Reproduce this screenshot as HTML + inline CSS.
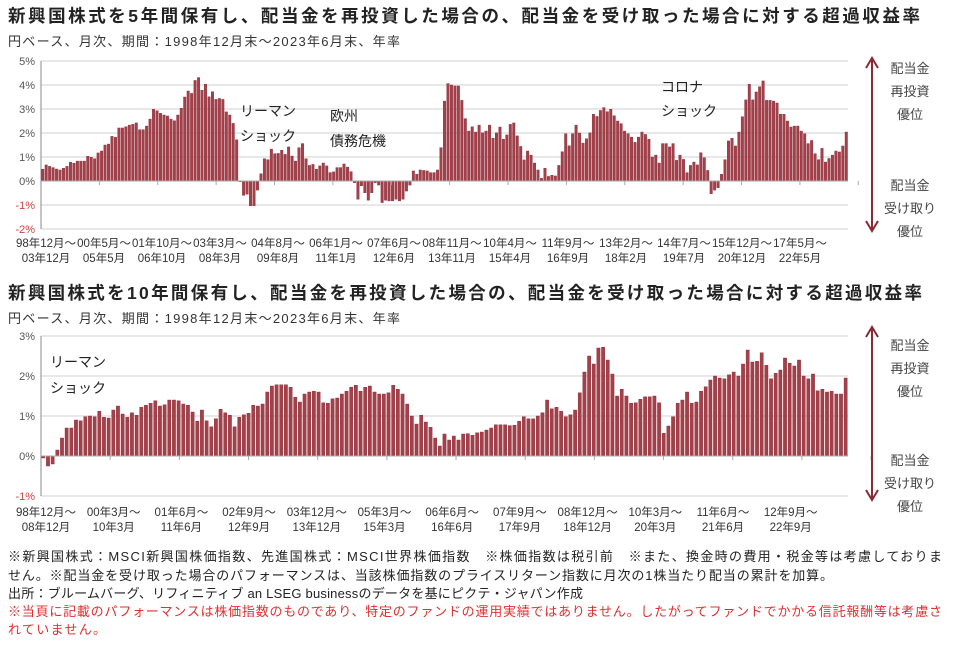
<!DOCTYPE html>
<html><head><meta charset="utf-8">
<style>
html,body{margin:0;padding:0;background:#fff;}
body{width:964px;height:640px;overflow:hidden;font-family:"Liberation Sans","Noto Sans CJK JP",sans-serif;}
svg text{font-family:"Liberation Sans","Noto Sans CJK JP",sans-serif;}
</style></head>
<body>
<svg id="svg" width="964" height="640" viewBox="0 0 964 640" xmlns="http://www.w3.org/2000/svg">
<text x="8" y="22" font-size="17.5" font-weight="bold" fill="#222" textLength="912" lengthAdjust="spacing">新興国株式を5年間保有し、配当金を再投資した場合の、配当金を受け取った場合に対する超過収益率</text>
<text x="8" y="46" font-size="13" fill="#333" textLength="392" lengthAdjust="spacing">円ベース、月次、期間：1998年12月末～2023年6月末、年率</text>
<g id="c1"></g>
<text x="8" y="299" font-size="17.5" font-weight="bold" fill="#222" textLength="914" lengthAdjust="spacing">新興国株式を10年間保有し、配当金を再投資した場合の、配当金を受け取った場合に対する超過収益率</text>
<text x="8" y="323" font-size="13" fill="#333" textLength="392" lengthAdjust="spacing">円ベース、月次、期間：1998年12月末～2023年6月末、年率</text>
<g id="c2"></g>
<g font-size="13" fill="#222">
<text x="8" y="561" textLength="934" lengthAdjust="spacing">※新興国株式：MSCI新興国株価指数、先進国株式：MSCI世界株価指数　※株価指数は税引前　※また、換金時の費用・税金等は考慮しておりま</text>
<text x="8" y="580" textLength="825" lengthAdjust="spacing">せん。※配当金を受け取った場合のパフォーマンスは、当該株価指数のプライスリターン指数に月次の1株当たり配当の累計を加算。</text>
<text x="8" y="598" textLength="575" lengthAdjust="spacing">出所：ブルームバーグ、リフィニティブ an LSEG businessのデータを基にピクテ・ジャパン作成</text>
<text x="8" y="616" fill="#e03030" textLength="934" lengthAdjust="spacing">※当頁に記載のパフォーマンスは株価指数のものであり、特定のファンドの運用実績ではありません。したがってファンドでかかる信託報酬等は考慮さ</text>
<text x="8" y="634" fill="#e03030" textLength="98" lengthAdjust="spacing">れていません。</text>
</g>
</svg>
<script>
const values5 = [0.49,0.67,0.61,0.56,0.5,0.46,0.53,0.61,0.78,0.74,0.83,0.83,0.83,1.03,0.99,0.93,1.17,1.25,1.5,1.54,1.86,1.82,2.21,2.21,2.26,2.33,2.36,2.42,2.14,2.14,2.29,2.58,2.99,2.93,2.82,2.75,2.71,2.58,2.51,2.75,3.03,3.5,3.75,3.65,4.19,4.31,3.78,4.03,3.51,3.72,3.4,3.44,3.4,2.88,2.75,2.4,1.72,
-0.03,-0.6,-0.55,-1.03,-1.03,-0.38,0.3,0.93,0.89,1.33,1.14,1.15,1.28,1.11,1.42,1.04,0.83,1.39,1.56,0.93,0.65,0.69,0.49,0.63,0.75,0.63,0.35,0.38,0.56,0.56,0.71,0.58,0.39,-0.07,-0.76,-0.2,-0.49,-0.8,-0.49,-0.07,-0.17,-0.9,-0.8,-0.83,-0.83,-0.76,-0.83,-0.76,-0.42,-0.17,0.42,0.28,0.46,0.44,0.42,0.35,0.35,0.46,1.39,
3.33,4.06,4.0,3.96,3.96,3.36,2.6,2.08,2.26,2.04,2.33,2.01,2.08,2.33,1.78,2.01,2.25,1.74,1.92,2.36,2.42,1.88,1.44,0.88,1.25,1.08,0.75,0.46,0.11,0.53,0.19,0.24,0.21,0.65,1.22,1.97,1.47,1.97,2.33,2.0,1.58,1.76,2.01,2.78,2.69,2.94,3.06,2.89,2.99,2.72,2.5,2.39,2.08,1.97,1.83,1.61,1.83,
2.04,1.94,1.74,1.0,1.08,0.75,1.56,1.56,1.42,1.56,0.86,1.08,0.9,0.35,0.65,0.79,0.67,1.18,0.97,0.44,-0.53,-0.38,-0.28,0.28,0.89,1.67,1.78,1.46,2.04,2.68,3.38,4.03,3.38,3.71,3.93,4.17,3.36,3.36,3.33,3.25,2.78,2.78,2.5,2.25,2.29,2.29,2.08,1.97,1.56,1.69,1.14,0.89,1.36,0.79,0.94,1.08,1.25,1.21,1.46,2.04];
const values10 = [-0.05,-0.25,-0.2,0.15,0.45,0.7,0.7,0.9,0.88,0.98,1.0,0.98,1.12,0.97,0.95,1.15,1.25,1.05,0.97,1.08,1.02,1.22,1.27,1.32,1.38,1.25,1.28,1.4,1.4,1.38,1.3,1.27,1.1,0.87,1.15,0.88,0.73,0.93,1.17,1.08,1.02,0.73,0.97,1.03,1.07,1.27,1.25,1.3,1.6,1.75,1.78,1.78,1.78,1.72,1.47,
1.35,1.55,1.6,1.62,1.6,1.33,1.32,1.43,1.45,1.55,1.62,1.72,1.77,1.62,1.72,1.75,1.6,1.55,1.55,1.58,1.77,1.67,1.55,1.3,1.0,0.8,1.02,0.85,0.72,0.45,0.25,0.55,0.4,0.5,0.4,0.55,0.56,0.52,0.58,0.6,0.65,0.7,0.78,0.78,0.78,0.76,0.77,0.87,0.98,0.93,0.93,1.0,1.08,1.4,1.18,1.22,1.12,0.98,1.03,1.15,
1.58,2.1,2.5,2.3,2.7,2.72,2.4,2.05,1.5,1.67,1.5,1.32,1.33,1.42,1.48,1.48,1.5,1.33,0.57,0.75,0.98,1.32,1.4,1.6,1.32,1.35,1.62,1.73,1.9,2.0,1.95,1.93,2.03,2.1,2.0,2.3,2.65,2.35,2.37,2.58,2.27,1.93,2.07,2.15,2.45,2.32,2.25,2.4,2.0,1.93,2.05,1.63,1.67,1.6,1.62,1.55,1.55,1.95];
const yTicks5 = [5,4,3,2,1,0,-1,-2];
const yTicks10 = [3,2,1,0,-1];
const xTop5 = ["98年12月～","00年5月～","01年10月～","03年3月～","04年8月～","06年1月～","07年6月～","08年11月～","10年4月～","11年9月～","13年2月～","14年7月～","15年12月～","17年5月～"];
const xBot5 = ["03年12月","05年5月","06年10月","08年3月","09年8月","11年1月","12年6月","13年11月","15年4月","16年9月","18年2月","19年7月","20年12月","22年5月"];
const xTop10 = ["98年12月～","00年3月～","01年6月～","02年9月～","03年12月～","05年3月～","06年6月～","07年9月～","08年12月～","10年3月～","11年6月～","12年9月～"];
const xBot10 = ["08年12月","10年3月","11年6月","12年9月","13年12月","15年3月","16年6月","17年9月","18年12月","20年3月","21年6月","22年9月"];

const NS="http://www.w3.org/2000/svg";
function mk(tag,attrs,parent,text){const e=document.createElementNS(NS,tag);for(const k in attrs)e.setAttribute(k,attrs[k]);if(text!==undefined)e.textContent=text;parent.appendChild(e);return e;}

function drawChart(g,cfg){
  const {vals,ticks,top,bot,x0,x1,yMax,yMin,yTop,yBot,lblStep,lblStart,rowY,barFrac,pfx}=cfg;
  const ys=v=>yTop+(yMax-v)/(yMax-yMin)*(yBot-yTop);
  const n=vals.length, bw=(x1-x0)/n;
  const xs=i=>x0+i*bw;
  ticks.forEach(t=>{
    const gl=mk('line',{x1:x0,x2:x1,y1:ys(t),y2:ys(t),stroke:'#d0d0d0','stroke-width':1},g);
    
    
    const tl=mk('text',{x:x0-6,y:ys(t)+4,'font-size':11,'text-anchor':'end',fill:t<0?'#d04040':'#555'},g,t+'%');
    
    
  });
  const ax=mk('line',{x1:x0,x2:x0,y1:yTop,y2:yBot,stroke:'#888','stroke-width':1},g);
  
  
  vals.forEach((v,i)=>{
    const y0=ys(0), y=ys(v);
    const r=mk('rect',{x:xs(i)+bw*(1-barFrac)/2,y:Math.min(y,y0),width:bw*barFrac,height:Math.max(Math.abs(y0-y),0.5),fill:'#a3404a',stroke:'#8a2a34','stroke-width':0.4},g);
    
    
  });
  const za=mk('line',{x1:x0,x2:x1,y1:ys(0),y2:ys(0),stroke:'#aaa','stroke-width':1},g);
  
  
  top.forEach((s,i)=>{
    const cx=lblStart+i*lblStep;
    const tk=mk('line',{x1:x0+(i+1)*cfg.tickMonths*bw,x2:x0+(i+1)*cfg.tickMonths*bw,y1:ys(0),y2:ys(0)+4,stroke:'#aaa'},g);
    
    
    const t1=mk('text',{x:cx,y:rowY,'font-size':11.5,'text-anchor':'middle',fill:'#333'},g,s);
    
    
    const t2=mk('text',{x:cx,y:rowY+15,'font-size':11.5,'text-anchor':'middle',fill:'#333'},g,bot[i]);
    
    
  });
}
function sideNote(g,yA,yB,topY,botY,pfx){
  const c='#8a2a34';
  const a=mk('path',{d:`M872 ${yA} L872 ${yB} M866 ${yA+10} L872 ${yA} L878 ${yA+10} M866 ${yB-10} L872 ${yB} L878 ${yB-10}`,stroke:c,'stroke-width':2,fill:'none'},g);
  
  
  [['配当金',topY],['再投資',topY+23],['優位',topY+46],['配当金',botY],['受け取り',botY+23],['優位',botY+46]].forEach(([s,y])=>{
    const t=mk('text',{x:910,y:y,'font-size':13,'text-anchor':'middle',fill:'#444'},g,s);
    
    
  });
}
function note(g,x,y,s,pfx){const t=mk('text',{x:x,y:y,'font-size':14,fill:'#222'},g,s);}

const g1=document.getElementById('c1');
drawChart(g1,{vals:values5,ticks:yTicks5,top:xTop5,bot:xBot5,x0:41,x1:848,yMax:5,yMin:-2,yTop:61,yBot:229,lblStep:58,lblStart:46,rowY:247,barFrac:0.72,tickMonths:17*233/235,pfx:'c1-'});
sideNote(g1,58,231,73,190,'c1-');
note(g1,240,116,'リーマン','c1-');note(g1,240,141,'ショック','c1-');
note(g1,330,121,'欧州','c1-');note(g1,330,146,'債務危機','c1-');
note(g1,661,92,'コロナ','c1-');note(g1,661,116,'ショック','c1-');

const g2=document.getElementById('c2');
drawChart(g2,{vals:values10,ticks:yTicks10,top:xTop10,bot:xBot10,x0:41,x1:848,yMax:3,yMin:-1,yTop:336,yBot:496,lblStep:67.7,lblStart:46,rowY:516,barFrac:0.7,tickMonths:15*173/175,pfx:'c2-'});
sideNote(g2,327,500,350,465,'c2-');
note(g2,50,367,'リーマン','c2-');note(g2,50,393,'ショック','c2-');
</script>
</body></html>
